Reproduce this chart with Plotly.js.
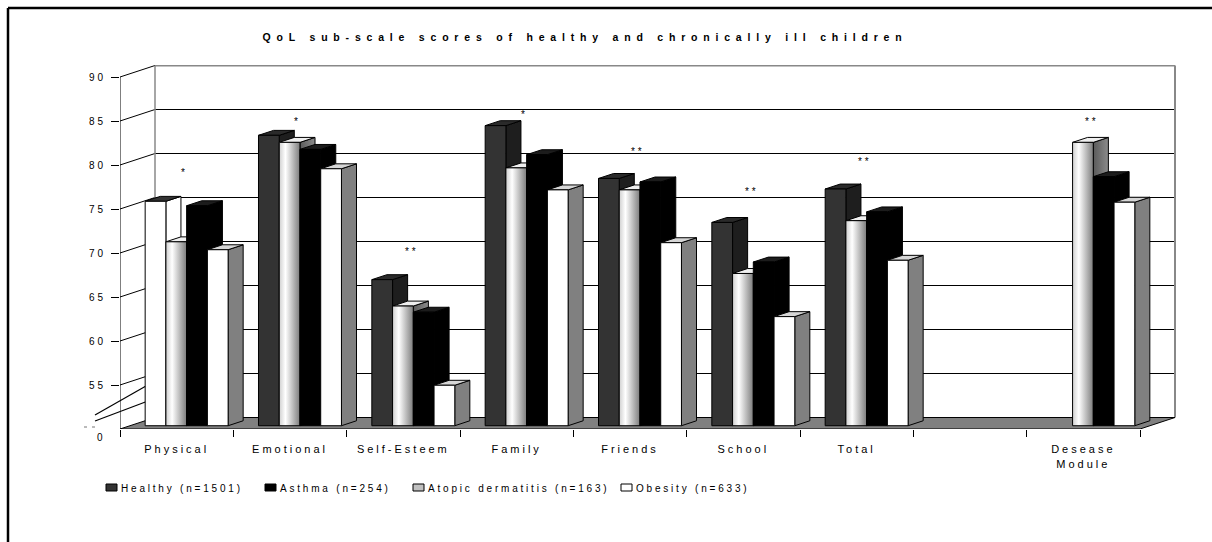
<!DOCTYPE html>
<html><head><meta charset="utf-8">
<script src="https://cdn.plot.ly/plotly-3.0.1.min.js"></script>
<style>
html,body{margin:0;padding:0;background:#fff;}
#chart{width:1212px;height:542px;}
.xtick text{letter-spacing:3px;}
.ytick text{letter-spacing:3px;}
.gtitle{letter-spacing:5.8px;}
.annotation-text{letter-spacing:2.8px;}
</style></head><body><div id="chart"></div>
<script>
// ---------- data ----------
const categories = ["Physical","Emotional","Self-Esteem","Family","Friends","School","Total"," ","Desease<br>Module"];
const healthy  = [75.5, 83.0, 66.6, 84.1, 78.1, 73.1, 76.9, null, null];
const atopic   = [70.9, 82.2, 63.6, 79.3, 76.8, 67.3, 73.3, null, 82.2];
const asthma   = [75.0, 81.4, 62.9, 80.8, 77.7, 68.6, 74.3, null, 78.3];
const obesity  = [70.0, 79.2, 54.6, 76.8, 70.8, 62.4, 68.8, null, 75.4];
const seriesNames = ["Healthy (n=1501)","Asthma (n=254)","Atopic dermatitis (n=163)","Obesity (n=633)"];
const sigMarks = ["*","*","**","*","**","**","**","","**"];
const sigLevel = [79.2, 85.0, 70.2, 85.7, 81.5, 77.0, 80.4, null, 85.0];
const yTickVals = [55,60,65,70,75,80,85,90];
const yTickText = ["55","60","65","70","75","80","85","90"];
const titleText = "QoL sub-scale scores of healthy and chronically ill children";

// ---------- geometry (pixel layout of the 3-D frame) ----------
const FONT = "Liberation Sans, Arial, sans-serif";
const L = 120, R = 1177, T = 65, B = 429;
const nCat = categories.length;
const pxPerX = (1140 - L) / nCat;
const xMax = (R - L) / pxPerX;
const pxPerY = 8.8;
const yMin = 50;
const yMax = yMin + (B - T) / pxPerY;
const DX = 35 / pxPerX, DY = 11.5 / pxPerY;      // depth of the box
const W_BAR = 0.183, GROUP_OFF = 0.134, F0 = 0.285, BD = 0.43;
const pX = p => (p - L) / (R - L);
const pY = p => (B - p) / (B - T);

// bar drawing order (left to right inside a group)
const barSeries = [
  {vals: healthy, st: {front:'#333333', top:'#2a2a2a', side:'#1e1e1e'}},
  {vals: atopic,  st: {frontGrad:[[0,'#cfcfcf'],[0.3,'#ffffff'],[1,'#7c7c7c']], top:'#efefef', sideGrad:[[0,'#5a5a5a'],[1,'#8c8c8c']]}},
  {vals: asthma,  st: {front:'#000000', top:'#1c1c1c', side:'#000000'}},
  {vals: obesity, st: {front:'#ffffff', top:'#d6d6d6', side:'#808080'}}
];
// the Physical/Healthy bar is rendered white in the original picture
const override = {"0_0": {front:'#ffffff', top:'#333333', side:'#ffffff'}};

function poly(xs, ys, color, grad) {
  const t = {type:'scatter', mode:'lines', x: xs.concat([xs[0]]), y: ys.concat([ys[0]]),
    fill:'toself', line:{color:'#000', width:1}, hoverinfo:'skip', showlegend:false};
  if (grad) t.fillgradient = {type:'horizontal', colorscale: grad};
  else t.fillcolor = color;
  return t;
}

const traces = [];
// floor
traces.push(poly([0, nCat, nCat + DX, DX], [yMin, yMin, yMin + DY, yMin + DY], '#808080'));

const ox = F0 * DX, oy = F0 * DY, bx = BD * DX, by = BD * DY;
for (let c = 0; c < nCat; c++) {
  barSeries.forEach((s, si) => {
    const v = s.vals[c];
    if (v === null || v === undefined) return;
    const st = override[si + "_" + c] || s.st;
    const xl = c + GROUP_OFF + si * W_BAR + ox, xr = xl + W_BAR;
    const y0 = yMin + oy, y1 = v + oy;
    traces.push(poly([xr, xr, xr + bx, xr + bx], [y0, y1, y1 + by, y0 + by], st.side, st.sideGrad));
    traces.push(poly([xl, xr, xr + bx, xl + bx], [y1, y1, y1 + by, y1 + by], st.top));
    traces.push(poly([xl, xr, xr, xl], [y0, y0, y1, y1], st.front, st.frontGrad));
  });
}

// ---------- shapes ----------
const shapes = [];
yTickVals.forEach(v => {
  shapes.push({type:'line', layer:'below', x0:0, y0:v, x1:DX, y1:v + DY, line:{color:'#000', width:1}});
  shapes.push({type:'line', layer:'below', x0:DX, y0:v + DY, x1:nCat + DX, y1:v + DY,
    line:{color: v === 90 ? '#888888' : '#000000', width: v === 90 ? 2 : 1}});
});
// back wall side edges
shapes.push({type:'line', layer:'below', x0:DX, y0:yMin + DY, x1:DX, y1:90 + DY, line:{color:'#888', width:1.5}});
shapes.push({type:'line', layer:'below', x0:nCat + DX, y0:yMin + DY, x1:nCat + DX, y1:90 + DY, line:{color:'#888', width:2}});
// front vertical axis
shapes.push({type:'line', x0:0, y0:yMin, x1:0, y1:90, line:{color:'#000', width:1}});
// axis break marks
shapes.push({type:'line', layer:'below', xref:'paper', yref:'paper', x0:pX(95), y0:pY(415), x1:pX(146), y1:pY(386), line:{color:'#000', width:1.2}});
shapes.push({type:'line', layer:'below', xref:'paper', yref:'paper', x0:pX(95), y0:pY(421), x1:pX(148), y1:pY(401), line:{color:'#000', width:1.2}});
shapes.push({type:'line', xref:'paper', yref:'paper', x0:pX(84), y0:pY(427), x1:pX(99), y1:pY(427), line:{color:'#777', width:1, dash:'3px,5px'}});
// outer frame
shapes.push({type:'line', xref:'paper', yref:'paper', x0:pX(8), y0:pY(8), x1:pX(1215), y1:pY(8), line:{color:'#000', width:2.5}});
shapes.push({type:'line', xref:'paper', yref:'paper', x0:pX(8), y0:pY(8), x1:pX(8), y1:pY(545), line:{color:'#000', width:2.5}});

// ---------- legend (manual, Excel style) ----------
const legendFill = ['#333333', '#000000', '#c0c0c0', '#ffffff'];
const legendX = [106, 265, 413, 621];
const annotations = [];
seriesNames.forEach((n, i) => {
  shapes.push({type:'rect', xref:'paper', yref:'paper', x0:pX(legendX[i]), x1:pX(legendX[i] + 11),
    y0:pY(491), y1:pY(484), fillcolor:legendFill[i], line:{color:'#000', width:1}});
  annotations.push({xref:'paper', yref:'paper', x:pX(legendX[i] + 13), y:pY(488), xanchor:'left', yanchor:'middle',
    text:n, showarrow:false, font:{family:FONT, size:10, color:'#000'}});
});
// significance marks
sigMarks.forEach((m, c) => {
  if (!m) return;
  annotations.push({x: c + 0.57, y: sigLevel[c], text: m, showarrow:false, xanchor:'center', yanchor:'middle',
    font:{family:FONT, size:10, color:'#000'}});
});
// broken-axis zero label
annotations.push({xref:'paper', yref:'paper', x:pX(101), y:pY(437), text:'0', showarrow:false,
  xanchor:'center', yanchor:'middle', font:{family:FONT, size:10, color:'#000'}});

const layout = {
  width:1212, height:542,
  margin:{l:L, r:1212 - R, t:T, b:542 - B, pad:0},
  paper_bgcolor:'#fff', plot_bgcolor:'#fff',
  showlegend:false,
  title:{text:titleText, font:{family:FONT, size:10.5, weight:'bold', color:'#000'},
    xref:'container', x:585/1212, xanchor:'center', yref:'container', y:1 - 37/542, yanchor:'middle'},
  xaxis:{range:[0, xMax], showgrid:false, zeroline:false, showline:false,
    tickmode:'array', tickvals:categories.map((_, i) => i + 0.5), ticktext:categories,
    ticks:'outside', ticklen:10, tickcolor:'rgba(0,0,0,0)',
    minor:{tickmode:'array', tickvals:categories.map((_, i) => i).concat([nCat]), ticks:'outside', ticklen:7, tickcolor:'#000', tickwidth:1},
    tickfont:{family:FONT, size:11, color:'#000'}, fixedrange:true},
  yaxis:{range:[yMin, yMax], showgrid:false, zeroline:false, showline:false,
    tickmode:'array', tickvals:yTickVals, ticktext:yTickText,
    ticks:'outside', ticklen:8, tickcolor:'#000', tickwidth:1, ticklabelstandoff:3,
    tickfont:{family:FONT, size:10, color:'#000'}, fixedrange:true},
  shapes:shapes, annotations:annotations
};

Plotly.newPlot('chart', traces, layout, {displayModeBar:false, staticPlot:true});
</script></body></html>
